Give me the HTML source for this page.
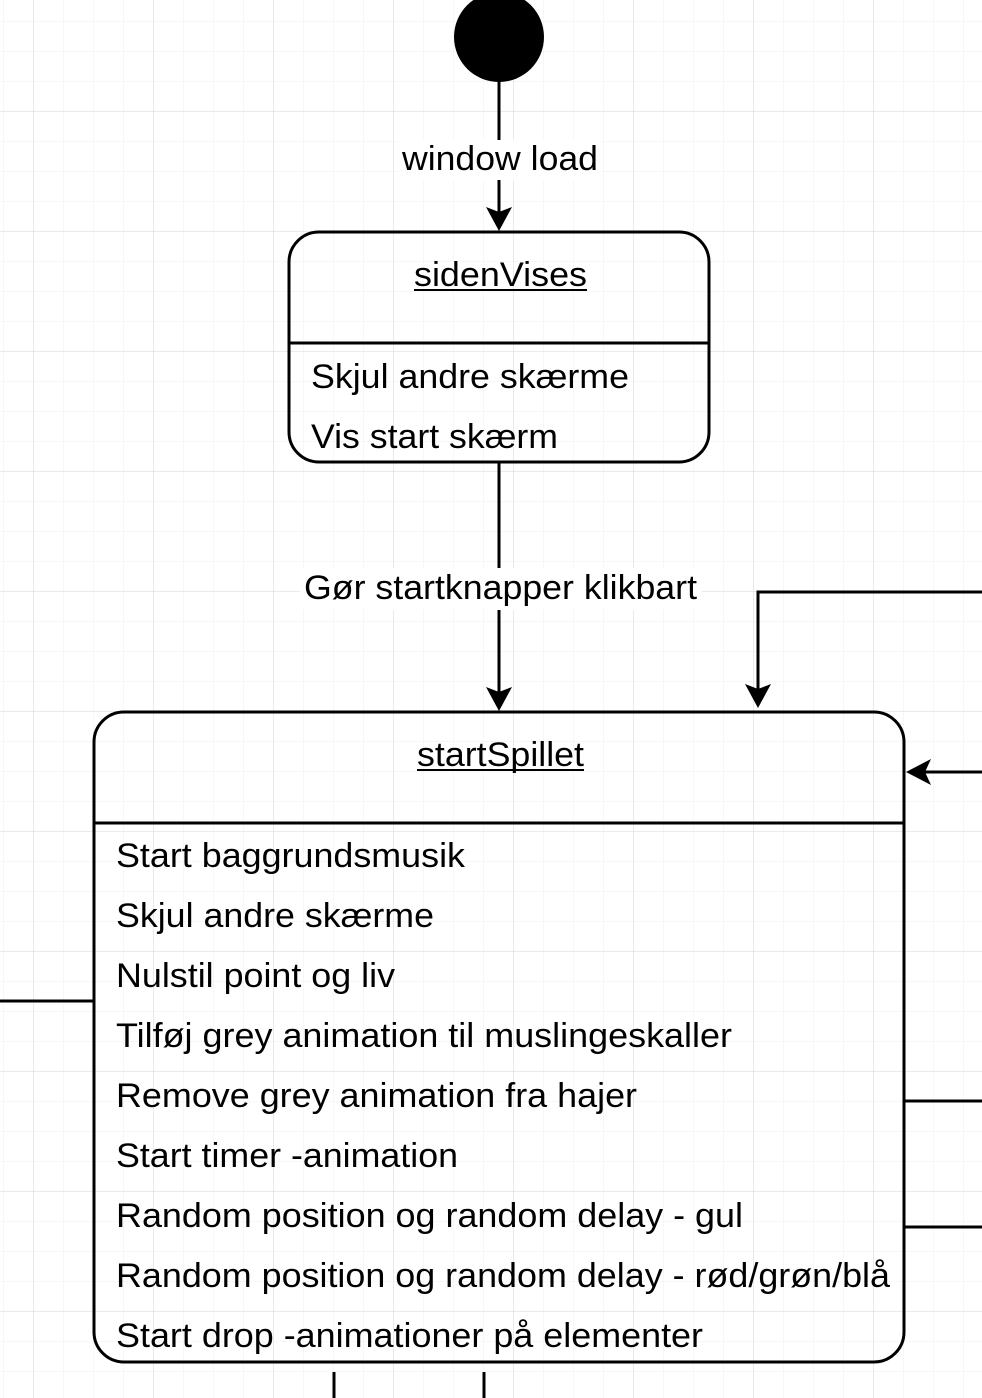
<!DOCTYPE html>
<html><head><meta charset="utf-8"><style>
html,body{margin:0;padding:0;background:#fff;}
svg{display:block;}
text{font-family:"Liberation Sans",Arial,sans-serif;font-size:34px;fill:#000;}
</style></head><body>
<svg width="982" height="1398" viewBox="0 0 982 1398" xmlns="http://www.w3.org/2000/svg">
<defs>
<pattern id="minor" x="3" y="21" width="30" height="30" patternUnits="userSpaceOnUse">
<path d="M0 0H30M0 0V30" stroke="#efefef" stroke-width="1" fill="none"/>
</pattern>
<pattern id="major" x="33" y="111" width="120" height="120" patternUnits="userSpaceOnUse">
<path d="M0 0H120M0 0V120" stroke="#d6d6d6" stroke-width="1" fill="none"/>
</pattern>
</defs>
<rect width="982" height="1398" fill="url(#minor)"/>
<rect width="982" height="1398" fill="url(#major)"/>

<g stroke="#000" stroke-width="3" fill="none">
<line x1="499" y1="80" x2="499" y2="214"/>
<line x1="499" y1="462" x2="499" y2="694"/>
<polyline points="982,592 758,592 758,692"/>
<line x1="982" y1="772" x2="922" y2="772"/>
<line x1="904" y1="1101" x2="982" y2="1101"/>
<line x1="904" y1="1227" x2="982" y2="1227"/>
<line x1="0" y1="1001" x2="94" y2="1001"/>
<line x1="334" y1="1372" x2="334" y2="1398"/>
<line x1="484" y1="1372" x2="484" y2="1398"/>
<rect x="289" y="232" width="420" height="230" rx="30"/>
<line x1="289" y1="343" x2="709" y2="343"/>
<rect x="94" y="712" width="810" height="650" rx="30"/>
<line x1="94" y1="823" x2="904" y2="823"/>
</g>
<g fill="#000">
<circle cx="499" cy="37" r="45"/>
<path d="M499 231 L486 207 L499 212 L512 207 Z"/>
<path d="M499 711 L486 687 L499 692 L512 687 Z"/>
<path d="M758 708 L745 684 L758 689 L771 684 Z"/>
<path d="M906 772 L931 759 L925 772 L931 785 Z"/>
</g>

<g lengthAdjust="spacingAndGlyphs">
<rect x="398" y="140" width="204" height="40" fill="#fff"/>
<text x="402" y="170" textLength="196" lengthAdjust="spacingAndGlyphs">window load</text>
<rect x="300" y="568" width="402" height="42" fill="#fff"/>
<text x="304" y="599" textLength="393" lengthAdjust="spacingAndGlyphs">Gør startknapper klikbart</text>

<text x="414" y="286" textLength="173" lengthAdjust="spacingAndGlyphs">sidenVises</text>
<line x1="414" y1="290" x2="587" y2="290" stroke="#000" stroke-width="2"/>
<text x="311" y="388" textLength="318" lengthAdjust="spacingAndGlyphs">Skjul andre skærme</text>
<text x="311" y="448" textLength="247" lengthAdjust="spacingAndGlyphs">Vis start skærm</text>

<text x="417" y="766" textLength="167" lengthAdjust="spacingAndGlyphs">startSpillet</text>
<line x1="417" y1="770" x2="584" y2="770" stroke="#000" stroke-width="2"/>
<text x="116" y="867" textLength="349" lengthAdjust="spacingAndGlyphs">Start baggrundsmusik</text>
<text x="116" y="927" textLength="318" lengthAdjust="spacingAndGlyphs">Skjul andre skærme</text>
<text x="116" y="987" textLength="279" lengthAdjust="spacingAndGlyphs">Nulstil point og liv</text>
<text x="116" y="1047" textLength="616" lengthAdjust="spacingAndGlyphs">Tilføj grey animation til muslingeskaller</text>
<text x="116" y="1107" textLength="521" lengthAdjust="spacingAndGlyphs">Remove grey animation fra hajer</text>
<text x="116" y="1167" textLength="342" lengthAdjust="spacingAndGlyphs">Start timer -animation</text>
<text x="116" y="1227" textLength="627" lengthAdjust="spacingAndGlyphs">Random position og random delay - gul</text>
<text x="116" y="1287" textLength="774" lengthAdjust="spacingAndGlyphs">Random position og random delay - rød/grøn/blå</text>
<text x="116" y="1347" textLength="587" lengthAdjust="spacingAndGlyphs">Start drop -animationer på elementer</text>
</g>
</svg>
</body></html>
